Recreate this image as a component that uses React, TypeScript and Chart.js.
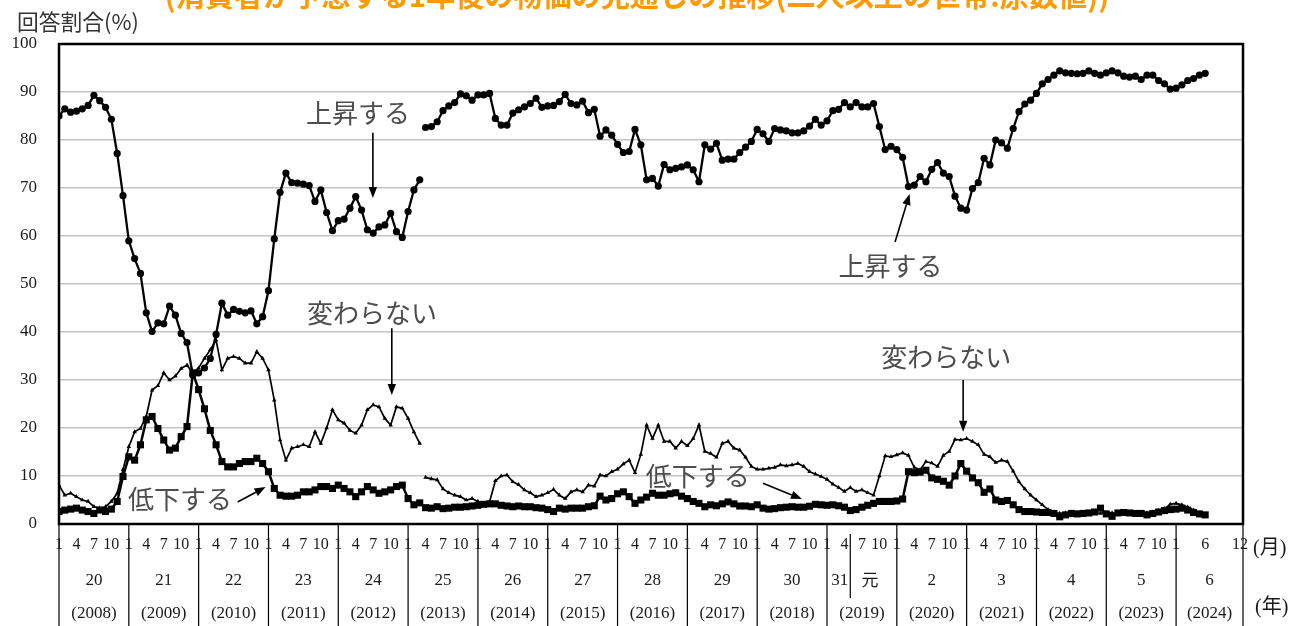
import React, { useEffect, useRef } from "react";
import { Chart, registerables } from "chart.js";

Chart.register(...registerables);

const TITLE = "(消費者が予想する1年後の物価の見通しの推移(二人以上の世帯:原数値))";
const Y_TITLE = "回答割合(%)";
const MONTH_UNIT = "(月)";
const YEAR_UNIT = "(年)";

const YEAR_COUNT = 17;
const ERA_LABELS = ["20", "21", "22", "23", "24", "25", "26", "27", "28", "29", "30", "", "2", "3", "4", "5", "6"];
const ERA_2019_OLD = "31";
const ERA_2019_NEW = "元";
const WESTERN_LABELS = ["(2008)", "(2009)", "(2010)", "(2011)", "(2012)", "(2013)", "(2014)", "(2015)", "(2016)", "(2017)", "(2018)", "(2019)", "(2020)", "(2021)", "(2022)", "(2023)", "(2024)"];
const MONTH_LABELS = ["1", "4", "7", "10"];
const MONTH_OFFSETS = [0, 3, 6, 9];
const LAST_MONTH_LABELS = ["1", "6", "12"];
const LAST_MONTH_OFFSETS = [0, 5, 11];

const SERIES_NAMES = ["上昇する", "変わらない", "低下する"];
const SEG2_START = 63; // April 2013 (survey method change)

// 上昇する
const upSeg1 = [
  85.0, 86.5, 85.8, 86.0, 86.5, 87.2, 89.3, 88.2, 86.8, 84.3, 77.2, 68.4,
  59.0, 55.3, 52.2, 44.0, 40.1, 41.9, 41.7, 45.4, 43.5, 39.7, 37.8, 31.0,
  31.5, 32.5, 34.5, 39.5, 46.0, 43.5, 44.7, 44.3, 44.0, 44.4, 41.7, 43.2,
  48.6, 59.4, 69.1, 73.1, 71.1, 71.0, 70.8, 70.5, 67.2, 69.6, 64.9, 61.1,
  63.2, 63.5, 65.8, 68.2, 65.4, 61.3, 60.6, 61.9, 62.3, 64.7, 60.9, 59.7,
  65.1, 69.6, 71.7,
];
const upSeg2 = [
  82.6, 82.8, 83.8, 86.1, 87.1, 87.8, 89.6, 89.2, 88.3,
  89.4, 89.4, 89.7, 84.5, 83.1, 83.1, 85.6, 86.3, 86.9, 87.6, 88.7, 86.8,
  87.1, 87.2, 88.0, 89.5, 87.6, 87.3, 88.1, 85.7, 86.4, 80.8, 82.1, 81.0,
  79.1, 77.4, 77.6, 82.2, 79.0, 71.7, 72.0, 70.4, 74.9, 73.8, 74.1, 74.4,
  74.8, 73.8, 71.3, 79.0, 78.1, 79.3, 75.8, 76.0, 76.0, 77.4, 78.5, 79.7,
  82.2, 81.3, 79.7, 82.4, 82.1, 81.9, 81.5, 81.5, 81.9, 82.9, 84.3, 83.1,
  84.0, 86.1, 86.4, 87.8, 86.9, 87.8, 86.9, 86.9, 87.6, 82.8, 78.0, 78.7,
  78.0, 76.4, 70.3, 70.6, 72.4, 71.3, 73.9, 75.3, 73.1, 72.4, 68.3, 65.8,
  65.4, 69.9, 71.1, 76.2, 74.8, 80.0, 79.4, 78.3, 82.4, 85.9, 87.5, 88.3,
  89.7, 91.7, 92.6, 93.5, 94.4, 94.0, 93.9, 93.8, 93.9, 94.4, 93.9, 93.5,
  94.0, 94.4, 94.0, 93.3, 93.1, 93.3, 92.6, 93.5, 93.5, 92.4, 91.7, 90.6,
  90.8, 91.5, 92.4, 92.8, 93.5, 93.9,
];

// 変わらない
const sameSeg1 = [
  8.1, 6.0, 6.4, 5.7, 5.0, 4.7, 3.6, 3.3, 3.6, 4.7, 6.4, 11.3,
  16.1, 19.2, 19.9, 22.4, 27.9, 28.8, 31.5, 30.0, 30.8, 32.4, 33.1, 31.5,
  32.5, 34.5, 36.3, 38.3, 32.1, 34.5, 34.9, 34.5, 33.5, 33.5, 35.9, 34.5,
  32.1, 25.8, 17.5, 13.3, 15.8, 16.1, 16.5, 16.1, 19.2, 16.8, 20.0, 23.8,
  21.7, 21.0, 19.5, 18.9, 20.6, 23.8, 24.8, 24.4, 22.0, 20.6, 24.4, 24.1,
  22.0, 19.2, 16.8,
];
const sameSeg2 = [
  9.7, 9.4, 9.2, 7.3, 6.5, 6.0, 5.7, 5.0, 5.3,
  4.7, 4.3, 4.6, 9.0, 10.0, 10.2, 8.8, 8.2, 7.1, 6.5, 5.7, 6.0,
  6.5, 7.2, 6.0, 5.3, 6.7, 7.1, 6.7, 8.1, 7.9, 10.2, 10.0, 10.9,
  11.4, 12.5, 13.3, 10.7, 14.5, 20.6, 17.8, 20.6, 17.2, 17.2, 15.8, 17.2,
  16.3, 17.8, 20.6, 15.1, 14.7, 13.9, 16.8, 17.2, 15.8, 15.4, 13.9, 12.0,
  11.4, 11.4, 11.6, 11.8, 12.3, 12.1, 12.3, 12.6, 12.0, 10.9, 10.4, 9.9,
  9.3, 8.3, 7.6, 6.8, 7.6, 6.8, 7.1, 6.5, 6.0, 10.0, 14.2, 14.0,
  14.4, 14.8, 14.3, 11.8, 11.3, 13.0, 12.7, 12.0, 14.3, 15.1, 17.6, 17.5,
  17.8, 17.2, 16.5, 14.5, 14.0, 12.8, 13.3, 13.0, 11.0, 8.8, 7.3, 6.0,
  5.0, 4.0, 3.0, 2.4, 2.2, 2.3, 2.1, 2.4, 2.2, 2.5, 2.3, 2.2,
  2.4, 2.3, 2.1, 2.4, 2.3, 2.2, 2.4, 2.3, 2.5, 2.8, 3.2, 4.1,
  4.3, 4.0, 3.5, 2.9, 2.3, 1.9,
];

// 低下する
const downSeg1 = [
  2.6, 2.9, 3.1, 3.3, 2.9, 2.6, 2.2, 2.9, 2.6, 3.1, 4.7, 9.9,
  14.0, 13.3, 16.5, 21.7, 22.4, 19.9, 17.5, 15.4, 15.8, 18.2, 20.3, 31.5,
  28.0, 24.0, 19.5, 16.5, 13.0, 11.9, 11.9, 12.6, 13.0, 13.0, 13.7, 12.6,
  10.9, 7.4, 6.0, 5.8, 5.8, 6.0, 6.7, 6.7, 7.1, 7.8, 7.8, 7.4,
  8.1, 7.4, 6.7, 5.7, 6.7, 7.8, 7.1, 6.4, 6.7, 7.1, 7.8, 8.1,
  5.3, 4.0, 4.4,
];
const downSeg2 = [
  3.4, 3.3, 3.6, 3.2, 3.3, 3.5, 3.5, 3.6, 3.75,
  3.9, 4.1, 4.2, 4.2, 3.9, 3.75, 3.6, 3.75, 3.6, 3.6, 3.4, 3.3,
  3.0, 2.6, 3.3, 3.1, 3.3, 3.3, 3.3, 3.6, 3.8, 5.8, 5.0, 5.3,
  6.3, 6.7, 5.7, 4.3, 5.0, 5.6, 6.4, 6.0, 6.0, 6.3, 6.5, 5.8,
  5.3, 4.7, 4.3, 3.6, 4.0, 3.8, 4.2, 4.6, 4.2, 3.75, 3.75, 3.6,
  4.0, 3.3, 3.1, 3.2, 3.4, 3.5, 3.6, 3.5, 3.5, 3.7, 4.1, 4.0,
  3.9, 4.0, 3.8, 3.5, 2.8, 3.0, 3.5, 3.9, 4.3, 4.7, 4.7, 4.7,
  4.8, 5.2, 10.9, 10.7, 10.8, 11.2, 9.6, 9.3, 8.9, 8.1, 10.0, 12.6,
  11.0, 9.6, 8.6, 6.6, 7.3, 5.0, 4.7, 4.9, 4.0, 3.0, 2.6, 2.6,
  2.5, 2.4, 2.4, 2.2, 1.5, 1.9, 2.2, 2.1, 2.2, 2.3, 2.5, 3.3,
  2.1, 1.6, 2.3, 2.4, 2.3, 2.2, 2.2, 1.9, 2.2, 2.5, 2.8, 3.0,
  3.1, 3.3, 2.9, 2.4, 2.1, 1.9,
];

// annotation placement in data units (month index, percent)
const ANNOTATIONS = [
  { text: "上昇する", tx: 51.4, ty: 85.6, a: [53.95, 81.5, 53.95, 67.9] },
  { text: "変わらない", tx: 53.8, ty: 44.0, a: [57.2, 40.8, 57.2, 26.9] },
  { text: "低下する", tx: 20.8, ty: 5.2, a: [30.7, 4.6, 35.5, 7.7] },
  { text: "上昇する", tx: 142.9, ty: 53.75, a: [143.7, 58.75, 146.2, 68.75] },
  { text: "変わらない", tx: 152.5, ty: 34.8, a: [155.4, 30.0, 155.4, 19.2] },
  { text: "低下する", tx: 109.8, ty: 10.0, a: [121.0, 8.5, 127.7, 5.2] },
];

const W = 1302;
const H = 626;
const PLOT_LEFT = 59;
const PLOT_RIGHT = 1243;
const PLOT_TOP = 44;
const PLOT_BOTTOM = 524;
const X_MAX = 203.5;

const SERIF = "'Liberation Serif', 'DejaVu Serif', serif";
const CJK = "'Noto Sans CJK JP', 'Noto Sans', sans-serif";

function build(seg1: number[], seg2: number[]) {
  return [
    ...seg1.map((v, i) => ({ x: i, y: v })),
    { x: SEG2_START - 0.5, y: null },
    ...seg2.map((v, j) => ({ x: SEG2_START + j, y: v })),
  ];
}

function arrow(ctx: CanvasRenderingContext2D, x1: number, y1: number, x2: number, y2: number) {
  const ang = Math.atan2(y2 - y1, x2 - x1);
  const hl = 11;
  const hw = 4.2;
  const bx = x2 - hl * Math.cos(ang);
  const by = y2 - hl * Math.sin(ang);
  ctx.beginPath();
  ctx.moveTo(x1, y1);
  ctx.lineTo(bx, by);
  ctx.stroke();
  ctx.beginPath();
  ctx.moveTo(x2, y2);
  ctx.lineTo(bx + hw * Math.sin(ang), by - hw * Math.cos(ang));
  ctx.lineTo(bx - hw * Math.sin(ang), by + hw * Math.cos(ang));
  ctx.closePath();
  ctx.fill();
}

function fitText(ctx: CanvasRenderingContext2D, text: string, weight: string, family: string, base: number, width: number) {
  ctx.font = `${weight} ${base}px ${family}`;
  const w = ctx.measureText(text).width;
  const size = (base * width) / w;
  ctx.font = `${weight} ${size}px ${family}`;
}

const decorPlugin = {
  id: "decor",
  afterDatasetsDraw(chart: any) {
    const { ctx, chartArea } = chart;
    ctx.save();
    ctx.strokeStyle = "#000";
    ctx.lineWidth = 2.5;
    ctx.strokeRect(chartArea.left, chartArea.top, chartArea.right - chartArea.left, chartArea.bottom - chartArea.top);
    ctx.restore();
  },
  afterDraw(chart: any) {
    const { ctx, chartArea } = chart;
    const xs = chart.scales.x;
    const ys = chart.scales.y;
    const px = (v: number) => Math.min(xs.getPixelForValue(v), chartArea.right);
    ctx.save();

    // year separators below the plot
    ctx.strokeStyle = "#000";
    ctx.lineWidth = 1.2;
    for (let k = 0; k <= YEAR_COUNT; k++) {
      const x = k === YEAR_COUNT ? chartArea.right : px(12 * k);
      ctx.beginPath();
      ctx.moveTo(x, chartArea.bottom);
      ctx.lineTo(x, H);
      ctx.stroke();
    }
    // era change (May 2019)
    const eraX = px(12 * 11 + 4);
    ctx.beginPath();
    ctx.moveTo(eraX, 534);
    ctx.lineTo(eraX, 598);
    ctx.stroke();

    ctx.fillStyle = "#1a1a1a";
    ctx.textAlign = "center";
    ctx.textBaseline = "middle";
    ctx.font = `16px ${SERIF}`;
    for (let k = 0; k < YEAR_COUNT; k++) {
      const last = k === YEAR_COUNT - 1;
      const labels = last ? LAST_MONTH_LABELS : MONTH_LABELS;
      const offs = last ? LAST_MONTH_OFFSETS : MONTH_OFFSETS;
      labels.forEach((lab, j) => {
        ctx.fillText(lab, px(12 * k + offs[j]), 545);
      });
    }
    ctx.font = `17px ${SERIF}, ${CJK}`;
    for (let k = 0; k < YEAR_COUNT; k++) {
      const x0 = px(12 * k);
      const x1 = k === YEAR_COUNT - 1 ? chartArea.right : px(12 * (k + 1));
      const cx = (x0 + x1) / 2;
      if (ERA_LABELS[k]) ctx.fillText(ERA_LABELS[k], cx, 581);
      ctx.fillText(WESTERN_LABELS[k], cx, 614);
    }
    ctx.fillText(ERA_2019_OLD, px(12 * 11 + 2.2), 581);
    ctx.fillText(ERA_2019_NEW, px(12 * 11 + 7.4), 582);

    ctx.font = `20px ${SERIF}, ${CJK}`;
    ctx.textAlign = "left";
    ctx.fillText(MONTH_UNIT, chartArea.right + 10, 549);
    ctx.fillText(YEAR_UNIT, chartArea.right + 12, 608);

    // axis title
    ctx.fillStyle = "#333";
    fitText(ctx, Y_TITLE, "normal", CJK, 18, 122);
    ctx.textAlign = "left";
    ctx.fillText(Y_TITLE, 17, 22);

    // clipped title
    ctx.fillStyle = "#ff9a00";
    fitText(ctx, TITLE, "bold", CJK, 26, 945);
    ctx.textAlign = "center";
    ctx.fillText(TITLE, 637, -4);

    // annotations
    ctx.font = `26px ${CJK}`;
    ctx.textAlign = "center";
    ctx.lineWidth = 1.6;
    ctx.strokeStyle = "#000";
    ANNOTATIONS.forEach((an) => {
      ctx.fillStyle = "#4d4d4d";
      ctx.fillText(an.text, xs.getPixelForValue(an.tx), ys.getPixelForValue(an.ty));
      ctx.fillStyle = "#000";
      arrow(
        ctx,
        xs.getPixelForValue(an.a[0]),
        ys.getPixelForValue(an.a[1]),
        xs.getPixelForValue(an.a[2]),
        ys.getPixelForValue(an.a[3])
      );
    });
    ctx.restore();
  },
};

export default function App() {
  const ref = useRef<HTMLCanvasElement | null>(null);

  useEffect(() => {
    if (!ref.current) return;
    const chart = new Chart(ref.current, {
      type: "line",
      data: {
        datasets: [
          {
            label: SERIES_NAMES[0],
            data: build(upSeg1, upSeg2) as any,
            borderColor: "#000",
            backgroundColor: "#000",
            borderWidth: 2.3,
            pointStyle: "circle",
            pointRadius: 3.6,
            pointBorderWidth: 0,
            pointBackgroundColor: "#000",
            tension: 0,
            spanGaps: false,
          },
          {
            label: SERIES_NAMES[1],
            data: build(sameSeg1, sameSeg2) as any,
            borderColor: "#000",
            backgroundColor: "#000",
            borderWidth: 1.7,
            pointStyle: "triangle",
            pointRadius: 2.6,
            pointBorderWidth: 0,
            pointBackgroundColor: "#000",
            tension: 0,
            spanGaps: false,
          },
          {
            label: SERIES_NAMES[2],
            data: build(downSeg1, downSeg2) as any,
            borderColor: "#000",
            backgroundColor: "#000",
            borderWidth: 2.5,
            pointStyle: "rect",
            pointRadius: 5.0,
            pointBorderWidth: 0,
            pointBackgroundColor: "#000",
            tension: 0,
            spanGaps: false,
          },
        ],
      },
      options: {
        responsive: false,
        animation: false,
        devicePixelRatio: 1,
        layout: {
          padding: { left: 0, right: W - PLOT_RIGHT, top: PLOT_TOP, bottom: H - PLOT_BOTTOM },
        },
        plugins: {
          legend: { display: false },
          tooltip: { enabled: false },
        },
        scales: {
          x: {
            type: "linear",
            display: false,
            min: 0,
            max: X_MAX,
          },
          y: {
            min: 0,
            max: 100,
            ticks: {
              stepSize: 10,
              padding: 22,
              color: "#1a1a1a",
              font: { family: SERIF, size: 17 },
            },
            grid: { color: "#c4c4c4", lineWidth: 1.5, drawTicks: false },
            border: { display: false },
            afterFit: (s: any) => {
              s.width = PLOT_LEFT;
            },
          },
        },
      },
      plugins: [decorPlugin],
    });
    return () => chart.destroy();
  }, []);

  return (
    <div style={{ position: "fixed", left: 0, top: 0, width: W, height: H, background: "#fff" }}>
      <canvas ref={ref} width={W} height={H} style={{ display: "block" }} />
    </div>
  );
}
